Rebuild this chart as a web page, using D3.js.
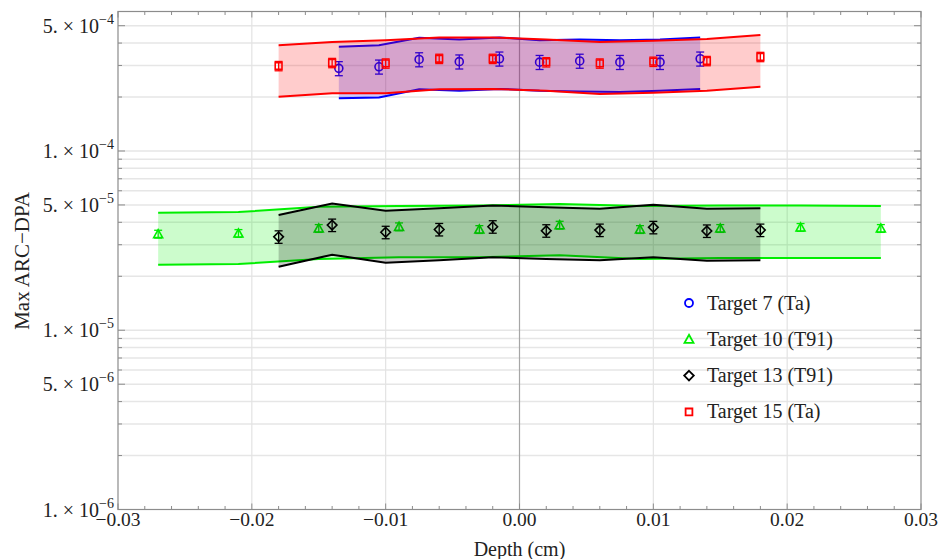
<!DOCTYPE html>
<html>
<head>
<meta charset="utf-8">
<script src="https://cdn.jsdelivr.net/npm/d3@7"></script>
<style>
  body { margin: 0; background: #fff; }
  svg { display: block; }
  svg text { font-family: "Liberation Serif", "Times New Roman", Times, serif; }
</style>
</head>
<body>
<svg id="chart" width="941" height="559"></svg>
<script>
// ---- data ----
const depth7 = [-0.0135, -0.0105, -0.0075, -0.0045, -0.0015, 0.0015, 0.0045, 0.0075, 0.0105, 0.0135];
const val7   = [2.89e-4, 2.95e-4, 3.24e-4, 3.15e-4, 3.27e-4, 3.13e-4, 3.18e-4, 3.13e-4, 3.13e-4, 3.27e-4];
const hi7    = [3.81e-4, 3.89e-4, 4.28e-4, 4.19e-4, 4.30e-4, 4.15e-4, 4.19e-4, 4.15e-4, 4.19e-4, 4.30e-4];
const lo7    = [1.97e-4, 1.99e-4, 2.21e-4, 2.17e-4, 2.22e-4, 2.17e-4, 2.15e-4, 2.13e-4, 2.17e-4, 2.22e-4];
const err7   = 0.09;

const depth10 = [-0.027, -0.021, -0.015, -0.009, -0.003, 0.003, 0.009, 0.015, 0.021, 0.027];
const val10   = [3.44e-5, 3.47e-5, 3.70e-5, 3.78e-5, 3.65e-5, 3.86e-5, 3.65e-5, 3.70e-5, 3.75e-5, 3.70e-5];
const hi10    = [4.52e-5, 4.56e-5, 4.88e-5, 4.93e-5, 4.97e-5, 5.06e-5, 4.93e-5, 4.97e-5, 4.97e-5, 4.93e-5];
const lo10    = [2.32e-5, 2.34e-5, 2.50e-5, 2.55e-5, 2.55e-5, 2.62e-5, 2.50e-5, 2.53e-5, 2.53e-5, 2.53e-5];
const err10   = 0.05;

const depth13 = [-0.018, -0.014, -0.010, -0.006, -0.002, 0.002, 0.006, 0.010, 0.014, 0.018];
const val13   = [3.32e-5, 3.86e-5, 3.52e-5, 3.65e-5, 3.78e-5, 3.59e-5, 3.62e-5, 3.75e-5, 3.58e-5, 3.62e-5];
const hi13    = [4.39e-5, 5.10e-5, 4.64e-5, 4.79e-5, 4.97e-5, 4.85e-5, 4.76e-5, 5.01e-5, 4.76e-5, 4.79e-5];
const lo13    = [2.26e-5, 2.64e-5, 2.38e-5, 2.46e-5, 2.55e-5, 2.50e-5, 2.46e-5, 2.55e-5, 2.44e-5, 2.46e-5];
const err13   = 0.08;

const depth15 = [-0.018, -0.014, -0.010, -0.006, -0.002, 0.002, 0.006, 0.010, 0.014, 0.018];
const val15   = [2.98e-4, 3.10e-4, 3.08e-4, 3.27e-4, 3.27e-4, 3.13e-4, 3.08e-4, 3.15e-4, 3.18e-4, 3.35e-4];
const hi15    = [3.89e-4, 4.06e-4, 4.15e-4, 4.30e-4, 4.30e-4, 4.19e-4, 4.06e-4, 4.12e-4, 4.21e-4, 4.43e-4];
const lo15    = [2.01e-4, 2.10e-4, 2.10e-4, 2.21e-4, 2.22e-4, 2.17e-4, 2.08e-4, 2.11e-4, 2.17e-4, 2.28e-4];
const err15   = 0.06;

const seriesNames = ["Target 7 (Ta)", "Target 10 (T91)", "Target 13 (T91)", "Target 15 (Ta)"];
const xTicks = [-0.03, -0.02, -0.01, 0.00, 0.01, 0.02, 0.03];
const yLabelTicks = [1e-6, 5e-6, 1e-5, 5e-5, 1e-4, 5e-4];

// ---- layout ----
const svg = d3.select("#chart");
const plotL = 118, plotR = 921, plotT = 11.5, plotB = 509.5;
const FONT = "'Liberation Serif', 'Times New Roman', Times, serif";

const x = d3.scaleLinear().domain([-0.03, 0.03]).range([plotL, plotR]);
const y = d3.scaleLog().domain([1e-6, 6e-4]).range([plotB, plotT]);

const series = [
  { name: seriesNames[0], depth: depth7,  val: val7,  hi: hi7,  lo: lo7,  err: err7,  color: "#0000ff", shape: "circle" },
  { name: seriesNames[1], depth: depth10, val: val10, hi: hi10, lo: lo10, err: err10, color: "#00ee00", shape: "triangle" },
  { name: seriesNames[2], depth: depth13, val: val13, hi: hi13, lo: lo13, err: err13, color: "#000000", shape: "diamond" },
  { name: seriesNames[3], depth: depth15, val: val15, hi: hi15, lo: lo15, err: err15, color: "#ff0000", shape: "square" }
];

// gridlines: every k*10^n
const minorY = [];
for (let e = -6; e <= -4; e++) {
  for (let k = 1; k <= 9; k++) {
    const v = k * Math.pow(10, e);
    if (v <= 6e-4) minorY.push(v);
  }
}
const grid = svg.append("g");
grid.selectAll("line.h").data(minorY.filter(v => v > 1e-6)).join("line")
  .attr("x1", plotL).attr("x2", plotR)
  .attr("y1", d => y(d)).attr("y2", d => y(d))
  .attr("stroke", "#e6e6e6").attr("stroke-width", 1.5);
grid.selectAll("line.v").data(xTicks.filter(d => Math.abs(d) > 1e-9 && Math.abs(d) < 0.029)).join("line")
  .attr("x1", d => x(d)).attr("x2", d => x(d))
  .attr("y1", plotT).attr("y2", plotB)
  .attr("stroke", "#e3e3e3").attr("stroke-width", 1.2);
grid.append("line")
  .attr("x1", x(0)).attr("x2", x(0)).attr("y1", plotT).attr("y2", plotB)
  .attr("stroke", "#a6a6a6").attr("stroke-width", 1.2);

// series
function symbolPath(shape) {
  if (shape === "circle") return "M-4,0a4,4 0 1,0 8,0a4,4 0 1,0 -8,0";
  if (shape === "square") return "M-3.4,-3.4H3.4V3.4H-3.4Z";
  if (shape === "triangle") return "M0,-4.5L4.5,3.6H-4.5Z";
  return "M0,-4.8L4.8,0L0,4.8L-4.8,0Z";
}

const area = d3.area().x(d => x(d.x)).y0(d => y(d.lo)).y1(d => y(d.hi));
const lineHi = d3.line().x(d => x(d.x)).y(d => y(d.hi));
const lineLo = d3.line().x(d => x(d.x)).y(d => y(d.lo));

series.forEach(s => {
  const pts = s.depth.map((d, i) => ({ x: d, v: s.val[i], hi: s.hi[i], lo: s.lo[i] }));
  const g = svg.append("g");
  g.append("path").datum(pts).attr("d", area)
    .attr("fill", s.color).attr("fill-opacity", 0.2).attr("stroke", "none");
  g.append("path").datum(pts).attr("d", lineHi)
    .attr("fill", "none").attr("stroke", s.color).attr("stroke-width", 2);
  g.append("path").datum(pts).attr("d", lineLo)
    .attr("fill", "none").attr("stroke", s.color).attr("stroke-width", 2);

  const p = g.selectAll("g.pt").data(pts).join("g")
    .attr("transform", d => `translate(${x(d.x)},0)`);
  p.append("line")
    .attr("x1", 0).attr("x2", 0)
    .attr("y1", d => y(d.v * (1 + s.err))).attr("y2", d => y(d.v * (1 - s.err)))
    .attr("stroke", s.color).attr("stroke-width", 1.3);
  [1 + s.err, 1 - s.err].forEach(f => {
    p.append("line")
      .attr("x1", -4).attr("x2", 4)
      .attr("y1", d => y(d.v * f)).attr("y2", d => y(d.v * f))
      .attr("stroke", s.color).attr("stroke-width", 1.3);
  });
  p.append("path")
    .attr("transform", d => `translate(0,${y(d.v)})`)
    .attr("d", symbolPath(s.shape))
    .attr("fill", "none")
    .attr("stroke", s.color).attr("stroke-width", 1.6);
});

// frame
svg.append("rect")
  .attr("x", plotL).attr("y", plotT).attr("width", plotR - plotL).attr("height", plotB - plotT)
  .attr("fill", "none").attr("stroke", "#8c8c8c").attr("stroke-width", 1.2);

// ticks, pointing inward on all four sides
const xMinor = d3.range(-0.03, 0.0301, 0.002);
const ax = svg.append("g").attr("stroke", "#8c8c8c").attr("stroke-width", 1);
xMinor.forEach(t => {
  const major = Math.abs(Math.round(t * 100) - t * 100) < 1e-6;
  const len = major ? 6 : 3.5;
  ax.append("line").attr("x1", x(t)).attr("x2", x(t)).attr("y1", plotB).attr("y2", plotB - len);
  ax.append("line").attr("x1", x(t)).attr("x2", x(t)).attr("y1", plotT).attr("y2", plotT + len);
});
minorY.forEach(v => {
  const major = yLabelTicks.some(t => Math.abs(t - v) / t < 1e-6);
  const len = major ? 7 : 4;
  ax.append("line").attr("x1", plotL).attr("x2", plotL + len).attr("y1", y(v)).attr("y2", y(v));
  ax.append("line").attr("x1", plotR).attr("x2", plotR - len).attr("y1", y(v)).attr("y2", y(v));
});

// x tick labels
svg.append("g").selectAll("text").data(xTicks).join("text")
  .attr("x", d => x(d)).attr("y", 526)
  .attr("text-anchor", "middle")
  .attr("font-family", FONT)
  .attr("font-size", 19.5).attr("fill", "#222")
  .text(d => d3.format(".2f")(d).replace("-", "\u2212"));

// y tick labels: "m. × 10^e"
const yl = svg.append("g").selectAll("text").data(yLabelTicks).join("text")
  .attr("x", 114).attr("y", d => y(d) + 7)
  .attr("text-anchor", "end")
  .attr("font-family", FONT)
  .attr("font-size", 20).attr("fill", "#222");
yl.append("tspan").text(d => {
  const e = Math.floor(Math.log10(d) + 1e-9);
  return Math.round(d / Math.pow(10, e)) + ". \u00d7 10";
});
yl.append("tspan").attr("dy", -9).attr("font-size", 14)
  .text(d => "\u2212" + (-Math.floor(Math.log10(d) + 1e-9)));

// axis titles
svg.append("text")
  .attr("x", x(0)).attr("y", 556)
  .attr("text-anchor", "middle").attr("font-family", FONT)
  .attr("font-size", 20).attr("fill", "#222")
  .text("Depth (cm)");
svg.append("text")
  .attr("transform", "translate(29,261) rotate(-90)")
  .attr("text-anchor", "middle").attr("font-family", FONT)
  .attr("font-size", 21).attr("fill", "#222")
  .text("Max ARC\u2212DPA");

// legend
const legend = svg.append("g");
series.forEach((s, i) => {
  const ly = 303 + i * 36.3;
  legend.append("path")
    .attr("transform", `translate(689,${ly})`)
    .attr("d", symbolPath(s.shape))
    .attr("fill", "none").attr("stroke", s.color).attr("stroke-width", 1.8);
  legend.append("text")
    .attr("x", 707).attr("y", ly + 6.5)
    .attr("font-family", FONT)
    .attr("font-size", 20).attr("fill", "#222")
    .text(s.name);
});
</script>
</body>
</html>
